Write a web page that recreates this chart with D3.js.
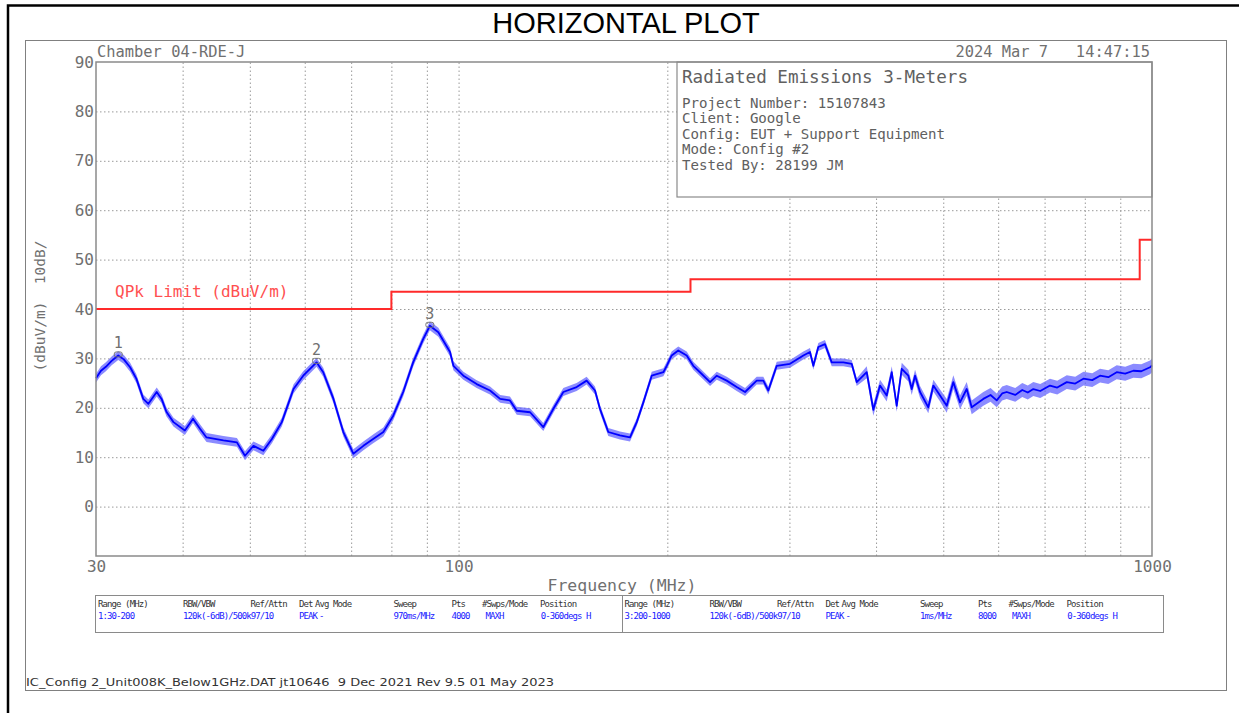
<!DOCTYPE html>
<html><head><meta charset="utf-8">
<script src="https://cdn.jsdelivr.net/npm/d3@7"></script>
<style>body{margin:0;background:#fff}svg{display:block}text{white-space:pre}</style>
</head><body><svg id="c" width="1239" height="713"></svg>
<script>
// ---------------- DATA ----------------
const traceFreqMHz = [30.0,30.5,31.0,31.6,32.3,32.9,33.6,34.3,35.1,35.7,36.7,37.3,37.9,38.8,40.3,41.4,42.4,43.3,45.8,47.9,49.2,50.6,52.3,53.8,55.6,57.8,59.7,62.4,63.8,66.0,68.2,70.5,72.9,75.3,77.9,80.5,83.2,86.0,88.9,90.9,93.5,97.2,98.3,101.6,106.2,111.0,114.8,118.6,121.3,126.8,132.5,137.0,141.6,148.0,153.0,157.3,159.9,164.4,170.9,176.7,180.7,184.7,189.9,197.4,199.6,202.9,207.4,213.3,218.0,222.9,230.5,235.7,243.6,251.8,258.9,269.1,275.1,279.7,287.6,300.6,314.2,321.2,324.8,330.2,337.6,345.2,358.8,368.9,375.1,387.8,396.4,405.3,414.4,421.4,428.4,435.6,445.3,450.3,455.3,462.9,475.8,483.8,494.7,505.8,517.0,528.6,540.5,549.5,571.1,585,597.1,608,617.3,635,650,662,674.3,690,712.7,730,753.5,775,796.3,820,841.5,865,889.4,915,939.9,965,993.5,1000];
const traceLevel   = [26.0,27.5,28.3,29.5,30.6,29.8,28.2,25.9,21.8,20.8,23.2,21.8,19.2,17.1,15.4,17.8,15.7,14.0,13.4,13.0,10.3,12.3,11.3,13.7,17.1,23.8,26.5,29.2,27.2,21.8,15.1,10.7,12.3,13.7,15.1,18.4,23.2,29.2,33.9,36.6,35.3,31.3,28.5,26.5,24.8,23.5,21.8,21.5,19.4,19.1,16.1,19.8,23.2,24.2,25.5,23.5,19.8,15.1,14.4,14.0,17.1,21.1,26.5,27.2,28.5,30.6,31.6,30.6,28.5,27.2,25.2,26.5,25.5,24.2,23.2,25.5,25.5,23.5,28.5,28.9,30.6,31.3,28.5,32.3,32.9,29.2,29.2,28.9,25.2,27.2,19.6,24.5,22.5,27.2,20.4,27.9,26.5,23.8,26.5,23.2,20.1,24.5,22.5,20.4,25.2,21.1,23.8,20.1,21.8,22.6,21.5,22.9,23.2,22.6,23.6,23.1,23.8,23.4,24.5,24.1,25.2,24.9,25.9,25.6,26.5,26.2,27.2,26.9,27.5,27.4,28.2,28.6];
const spreadFromMHz = [30, 100, 380, 500];
const spreadDb = [0.9, 0.8, 1.2, 1.4];
const limitFreqMHz = [30, 80, 216, 960, 1000];
const limitLevel = [40, 43.5, 46, 54, 54];
const markerFreqMHz = [32.3, 62.4, 90.9];
const markerLevel = [30.8, 29.5, 36.8];
const markerLabels = ["1", "2", "3"];
const yLabelTicks = [0, 10, 20, 30, 40, 50, 60, 70, 80, 90];
const yGridTicks = [0, 10, 20, 30, 40, 50, 60, 70, 80];
const xGridTicks = [40, 50, 60, 70, 80, 90, 100, 200, 300, 400, 500, 600, 700, 800, 900];
const xLabelTicks = [30, 100, 1000];
const titleText = "HORIZONTAL PLOT";
const chamberText = "Chamber 04-RDE-J";
const dateText = "2024 Mar 7   14:47:15";
const infoTitle = "Radiated Emissions 3-Meters";
const infoLines = ["Project Number: 15107843", "Client: Google", "Config: EUT + Support Equipment", "Mode: Config #2", "Tested By: 28199 JM"];
const yAxisTitle = "(dBuV/m)  10dB/";
const xAxisTitle = "Frequency (MHz)";
const limitName = "QPk Limit (dBuV/m)";
const tableHeaders = ["Range (MHz)", "RBW/VBW", "Ref/Attn", "Det", "Avg Mode", "Sweep", "Pts", "#Swps/Mode", "Position"];
const tableRowA = ["1:30-200", "120k(-6dB)/500k97/10", "PEAK", "-", "970ms/MHz", "4000", "MAXH", "0-360degs H"];
const tableRowB = ["3:200-1000", "120k(-6dB)/500k97/10", "PEAK", "-", "1ms/MHz", "8000", "MAXH", "0-360degs H"];
const footerText = "IC_Config 2_Unit008K_Below1GHz.DAT jt10646  9 Dec 2021 Rev 9.5 01 May 2023";

// ---------------- LAYOUT ----------------
const MONO = "'DejaVu Sans Mono', monospace";
const P = {l: 96, r: 1152, t: 62, b: 556};
const svg = d3.select("#c");
const x = d3.scaleLog().domain([30, 1000]).range([P.l, P.r]);
const y = d3.scaleLinear().domain([-10, 90]).range([P.b, P.t]);

// outer frames
svg.append("path").attr("d", "M8,713V5.5H1239").attr("fill", "none").attr("stroke", "#000").attr("stroke-width", 2.5);
svg.append("rect").attr("x", 25.5).attr("y", 40.5).attr("width", 1201).attr("height", 650)
  .attr("fill", "none").attr("stroke", "#808080").attr("stroke-width", 1);

// title
svg.append("text").attr("x", 626).attr("y", 33).attr("text-anchor", "middle")
  .attr("font-family", "'Liberation Sans', Arial, sans-serif").attr("font-size", 29).attr("fill", "#000").text(titleText);

// grid
const gridStyle = g => {
  g.select(".domain").remove();
  g.selectAll(".tick line").attr("stroke", "#9a9a9a").attr("stroke-width", 1).attr("stroke-dasharray", "1.5,2.5");
  g.selectAll(".tick text").remove();
};
svg.append("g").attr("transform", `translate(0,${P.b})`)
  .call(d3.axisBottom(x).tickValues(xGridTicks).tickSize(-(P.b - P.t)).tickFormat(""))
  .call(gridStyle);
svg.append("g").attr("transform", `translate(${P.l},0)`)
  .call(d3.axisLeft(y).tickValues(yGridTicks).tickSize(-(P.r - P.l)).tickFormat(""))
  .call(gridStyle);

// tick labels
const labStyle = g => {
  g.select(".domain").remove();
  g.selectAll(".tick line").remove();
  g.selectAll(".tick text").attr("font-family", MONO).attr("font-size", 16).attr("fill", "#707070");
};
svg.append("g").attr("transform", `translate(0,${P.b})`)
  .call(d3.axisBottom(x).tickValues(xLabelTicks).tickSize(0).tickPadding(5).tickFormat(d3.format("d")))
  .call(labStyle);
svg.append("g").attr("transform", `translate(${P.l - 1},0)`)
  .call(d3.axisLeft(y).tickValues(yLabelTicks).tickSize(0).tickPadding(1).tickFormat(d3.format("d")))
  .call(labStyle);

// axis titles
svg.append("text").attr("x", 622).attr("y", 591).attr("text-anchor", "middle")
  .attr("font-family", MONO).attr("font-size", 16.5).attr("fill", "#707070").text(xAxisTitle);
svg.append("text").attr("transform", "translate(45,306) rotate(-90)").attr("text-anchor", "middle")
  .attr("font-family", MONO).attr("font-size", 14.5).attr("fill", "#707070").text(yAxisTitle);

// header texts
svg.append("text").attr("x", 97).attr("y", 57).attr("font-family", MONO).attr("font-size", 15.4)
  .attr("fill", "#707070").text(chamberText);
svg.append("text").attr("x", 1150).attr("y", 57).attr("text-anchor", "end").attr("font-family", MONO)
  .attr("font-size", 15.4).attr("fill", "#707070").text(dateText);

// info box
svg.append("rect").attr("x", 677).attr("y", P.t).attr("width", P.r - 677).attr("height", 135)
  .attr("fill", "#fff").attr("stroke", "#8a8a8a").attr("stroke-width", 1.2);
svg.append("text").attr("x", 682).attr("y", 83).attr("font-family", MONO).attr("font-size", 17.6)
  .attr("fill", "#606060").text(infoTitle);
svg.selectAll("text.info").data(infoLines).join("text").attr("class", "info")
  .attr("x", 682).attr("y", (d, i) => 107.5 + i * 15.6)
  .attr("font-family", MONO).attr("font-size", 14.1).attr("fill", "#606060").text(d => d);

// limit line
svg.append("path").datum(limitFreqMHz.map((f, i) => [f, limitLevel[i]]))
  .attr("d", d3.line().x(d => x(d[0])).y(d => y(d[1])).curve(d3.curveStepAfter))
  .attr("fill", "none").attr("stroke", "#ff2a2a").attr("stroke-width", 2);
svg.append("text").attr("x", 115).attr("y", 297).attr("font-family", MONO).attr("font-size", 16)
  .attr("fill", "#ff5050").text(limitName);

// trace
const pts = traceFreqMHz.map((f, i) => {
  let s = spreadDb[0];
  spreadFromMHz.forEach((sf, j) => { if (f >= sf) s = spreadDb[j]; });
  return {f, v: traceLevel[i], s};
});
svg.append("path").datum(pts)
  .attr("d", d3.area().x(d => x(d.f)).y0(d => y(d.v - d.s)).y1(d => y(d.v + d.s)))
  .attr("fill", "#5a5aff").attr("opacity", 0.7);
svg.append("path").datum(pts)
  .attr("d", d3.line().x(d => x(d.f)).y(d => y(d.v)))
  .attr("fill", "none").attr("stroke", "#0000ff").attr("stroke-width", 1.8).attr("stroke-linejoin", "round");

// markers
const mk = svg.append("g");
markerFreqMHz.forEach((f, i) => {
  mk.append("rect").attr("x", x(f) - 4).attr("y", y(markerLevel[i]) - 2.5).attr("width", 8).attr("height", 5)
    .attr("rx", 2).attr("fill", "none").attr("stroke", "#777").attr("stroke-width", 1);
  mk.append("text").attr("x", x(f)).attr("y", y(markerLevel[i]) - 6).attr("text-anchor", "middle")
    .attr("font-family", MONO).attr("font-size", 15).attr("fill", "#707070").text(markerLabels[i]);
});

// plot frame
svg.append("rect").attr("x", P.l).attr("y", P.t).attr("width", P.r - P.l).attr("height", P.b - P.t)
  .attr("fill", "none").attr("stroke", "#8a8a8a").attr("stroke-width", 1.5);

// settings table
const tb = {x: 95, y: 595, w: 1068, h: 37, mid: 622};
svg.append("rect").attr("x", tb.x + 0.5).attr("y", tb.y + 0.5).attr("width", tb.w).attr("height", tb.h)
  .attr("fill", "none").attr("stroke", "#8a8a8a").attr("stroke-width", 1);
svg.append("line").attr("x1", tb.mid + 0.5).attr("x2", tb.mid + 0.5).attr("y1", tb.y).attr("y2", tb.y + tb.h)
  .attr("stroke", "#8a8a8a");
const headOff = [0, 85, 152.5, 201, 217, 295.5, 353.5, 384, 442];
const valOff = [0, 85, 201, 221, 295.5, 353.5, 387.5, 442.8];
[[98, tableRowA], [624.5, tableRowB]].forEach(([bx, row]) => {
  tableHeaders.forEach((h, i) => svg.append("text").attr("x", bx + headOff[i]).attr("y", 607)
    .attr("font-family", MONO).attr("font-size", 9).attr("letter-spacing", -0.9).attr("fill", "#333").text(h));
  row.forEach((v, i) => svg.append("text").attr("x", bx + valOff[i]).attr("y", 619)
    .attr("font-family", MONO).attr("font-size", 9).attr("letter-spacing", -0.9).attr("fill", "#2020ff").text(v));
});

// footer
svg.append("text").attr("x", 26).attr("y", 686).attr("font-family", "'DejaVu Sans', sans-serif")
  .attr("font-size", 11).attr("fill", "#333").attr("textLength", 528).attr("lengthAdjust", "spacingAndGlyphs").text(footerText);
</script></body></html>
